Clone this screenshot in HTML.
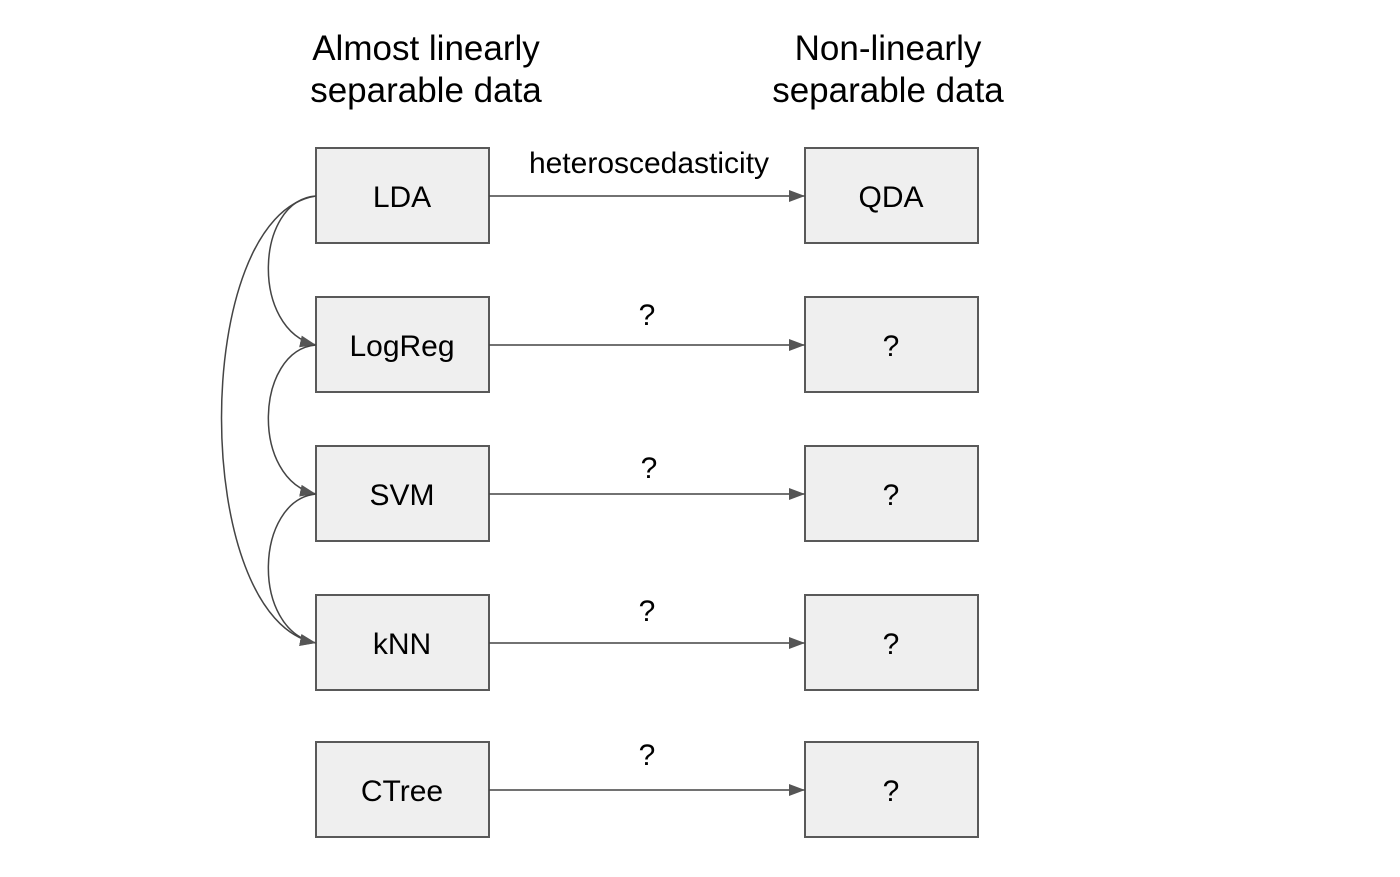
<!DOCTYPE html>
<html><head><style>
body{margin:0;background:#fff;}
svg{display:block;font-family:"Liberation Sans",Arial,sans-serif;}
</style></head><body>
<svg width="1400" height="877" viewBox="0 0 1400 877">
<defs><marker id="a" markerWidth="16" markerHeight="12" refX="16" refY="6" orient="auto" markerUnits="userSpaceOnUse"><path d="M0,0 L16,6 L0,12 z" fill="#555"/></marker></defs>
<g font-size="35" fill="#000" text-anchor="middle">
<text x="426" y="60">Almost linearly</text>
<text x="426" y="102">separable data</text>
<text x="888" y="60">Non-linearly</text>
<text x="888" y="102">separable data</text>
</g>
<g fill="#efefef" stroke="#595959" stroke-width="2">
<rect x="316" y="148" width="173" height="95"/>
<rect x="316" y="297" width="173" height="95"/>
<rect x="316" y="446" width="173" height="95"/>
<rect x="316" y="595" width="173" height="95"/>
<rect x="316" y="742" width="173" height="95"/>
<rect x="805" y="148" width="173" height="95"/>
<rect x="805" y="297" width="173" height="95"/>
<rect x="805" y="446" width="173" height="95"/>
<rect x="805" y="595" width="173" height="95"/>
<rect x="805" y="742" width="173" height="95"/>
</g>
<g font-size="30" text-anchor="middle" fill="#000">
<text x="402" y="207">LDA</text>
<text x="402" y="356">LogReg</text>
<text x="402" y="505">SVM</text>
<text x="402" y="654">kNN</text>
<text x="402" y="801">CTree</text>
<text x="891" y="207">QDA</text>
<text x="891" y="356">?</text>
<text x="891" y="505">?</text>
<text x="891" y="654">?</text>
<text x="891" y="801">?</text>
<text x="649" y="173">heteroscedasticity</text>
<text x="647" y="325">?</text>
<text x="649" y="478">?</text>
<text x="647" y="621">?</text>
<text x="647" y="765">?</text>
</g>
<g stroke="#444" stroke-width="1.5" fill="none" marker-end="url(#a)">
<line x1="489" y1="196" x2="805" y2="196"/>
<line x1="489" y1="345" x2="805" y2="345"/>
<line x1="489" y1="494" x2="805" y2="494"/>
<line x1="489" y1="643" x2="805" y2="643"/>
<line x1="489" y1="790" x2="805" y2="790"/>
<path d="M316,196 C255,200 250,330 316,345"/>
<path d="M316,345 C255,350 250,480 316,494"/>
<path d="M316,494 C255,500 250,630 316,643"/>
<path d="M316,196 C190,215 190,620 316,643"/>
</g>
</svg>
</body></html>
